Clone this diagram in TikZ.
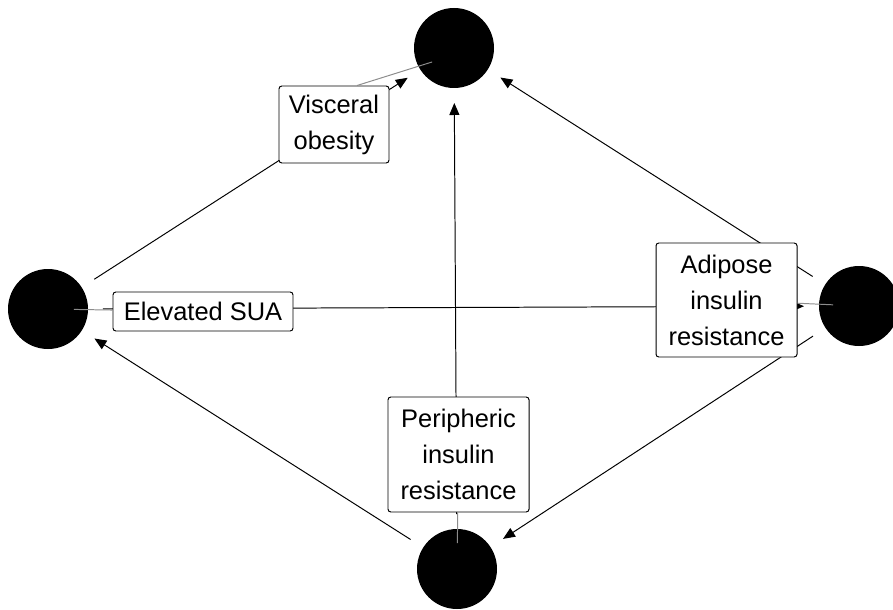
\documentclass[tikz,border=0pt]{standalone}
\usepackage{fontspec}
\setmainfont{Liberation Sans}
\usepackage{tikz}
\usetikzlibrary{arrows.meta,calc}
\definecolor{pingray}{RGB}{140,140,140}

\begin{document}
\begin{tikzpicture}[
  dot/.style={circle, fill=black, inner sep=0pt, minimum size=2cm, outer sep=0.375cm},
  effect/.style={-{Triangle[length=0.3cm,width=0.25cm]}, line width=0.7pt},
  lbl/.style={draw, fill=white, rounded corners=2pt, line width=0.7pt, align=center,
    inner sep=2pt, font=\fontsize{18.1}{25.6}\selectfont},
  pinline/.style={pingray, line width=0.7pt}
]
  \useasboundingbox (0,0) rectangle (22.325,-15.25);
  \node[dot] (top) at (11.35,-1.2) {};
  \node[dot] (left) at (1.2,-7.725) {};
  \node[dot] (right) at (21.475,-7.65) {};
  \node[dot] (bot) at (11.425,-14.225) {};

  \draw[effect] (left) -- (top);
  \draw[effect] (bot) -- (top);
  \draw[effect] (right) -- (top);
  \draw[effect] (left) -- (right);
  \draw[effect] (right) -- (bot);
  \draw[effect] (bot) -- (left);

  \node[lbl, minimum width=2.75cm, minimum height=1.925cm] (visc) at (8.35,-3.1125) {Visceral\\obesity};
  \node[lbl, minimum width=4.5cm, minimum height=0.975cm] (sua) at (5.075,-7.7875) {Elevated SUA};
  \node[lbl, minimum width=3.525cm, minimum height=2.85cm] (adip) at (18.1625,-7.5) {Adipose\\insulin\\resistance};
  \node[lbl, minimum width=3.525cm, minimum height=2.875cm] (peri) at (11.4625,-11.3625) {Peripheric\\insulin\\resistance};

  \draw[pinline] ([xshift=0.575cm]visc.north) -- ($(top)!0.65cm!(visc)$);
  \draw[pinline] (sua) -- ($(left)!0.65cm!(sua)$);
  \draw[pinline] (adip) -- ($(right)!0.65cm!(adip)$);
  \draw[pinline] (peri) -- ($(bot)!0.65cm!(peri)$);
\end{tikzpicture}
\end{document}
